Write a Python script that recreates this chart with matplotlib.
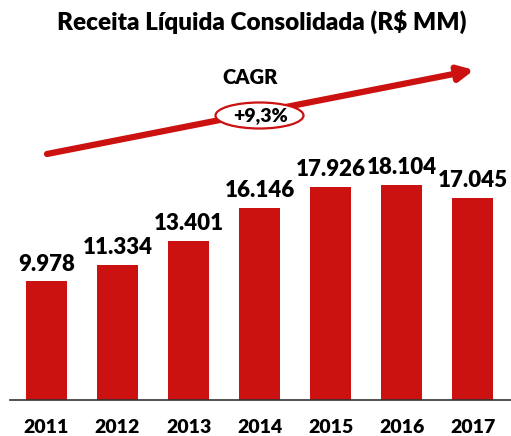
import matplotlib

matplotlib.use("Agg")
import matplotlib.pyplot as plt
from matplotlib.patches import Ellipse

years = ["2011", "2012", "2013", "2014", "2015", "2016", "2017"]
revenue = [9978, 11334, 13401, 16146, 17926, 18104, 17045]
labels = ["9.978", "11.334", "13.401", "16.146", "17.926", "18.104", "17.045"]
title = "Receita Líquida Consolidada (R$ MM)"
cagr_label = "CAGR"
cagr_value = "+9,3%"

RED = "#CC1111"
W, H = 511, 436
WT = "heavy"

plt.rcParams["font.family"] = ["Lato", "DejaVu Sans"]

fig = plt.figure(figsize=(W / 100, H / 100), dpi=100)

# main bar axes: x from 10px to 511px, baseline at y=400px, top at y=40px
ax = fig.add_axes([10 / W, 36 / H, 501 / W, 360 / H])
x = list(range(len(years)))
ax.bar(x, revenue, width=0.58, color=RED)
ax.set_xlim(-0.514, 6.54)
ax.set_ylim(0, 360 / 0.01188)
for xi, v, lab in zip(x, revenue, labels):
    ax.annotate(lab, (xi, v), xytext=(0, 5), textcoords="offset points",
                ha="center", va="bottom", fontsize=16, fontweight=WT)
ax.set_xticks(x)
ax.set_xticklabels(years, fontsize=14, fontweight=WT)
ax.tick_params(axis="x", length=0, pad=14)
ax.set_yticks([])
for side in ("top", "right", "left"):
    ax.spines[side].set_visible(False)
ax.spines["bottom"].set_color("#333333")
ax.spines["bottom"].set_linewidth(1.2)

# overlay in pixel coordinates for decorations
ov = fig.add_axes([0, 0, 1, 1], facecolor="none")
ov.set_xlim(0, W)
ov.set_ylim(H, 0)
ov.axis("off")

ov.text(262, 22, title, ha="center", va="center", fontsize=17.5, fontweight=WT)
ov.annotate("", xy=(474, 70), xytext=(47, 154),
            arrowprops=dict(arrowstyle="-|>,head_length=0.9,head_width=0.45",
                            color=RED, lw=4.5, shrinkA=0, shrinkB=0))
ov.add_patch(Ellipse((259.5, 115.5), 88, 26, facecolor="white", edgecolor=RED, lw=1.6, zorder=3))
ov.text(260, 116, cagr_value, ha="center", va="center", fontsize=14, fontweight=WT, zorder=4)
ov.text(250, 78, cagr_label, ha="center", va="center", fontsize=14.5, fontweight=WT)

fig.savefig("out.png", dpi=100)
